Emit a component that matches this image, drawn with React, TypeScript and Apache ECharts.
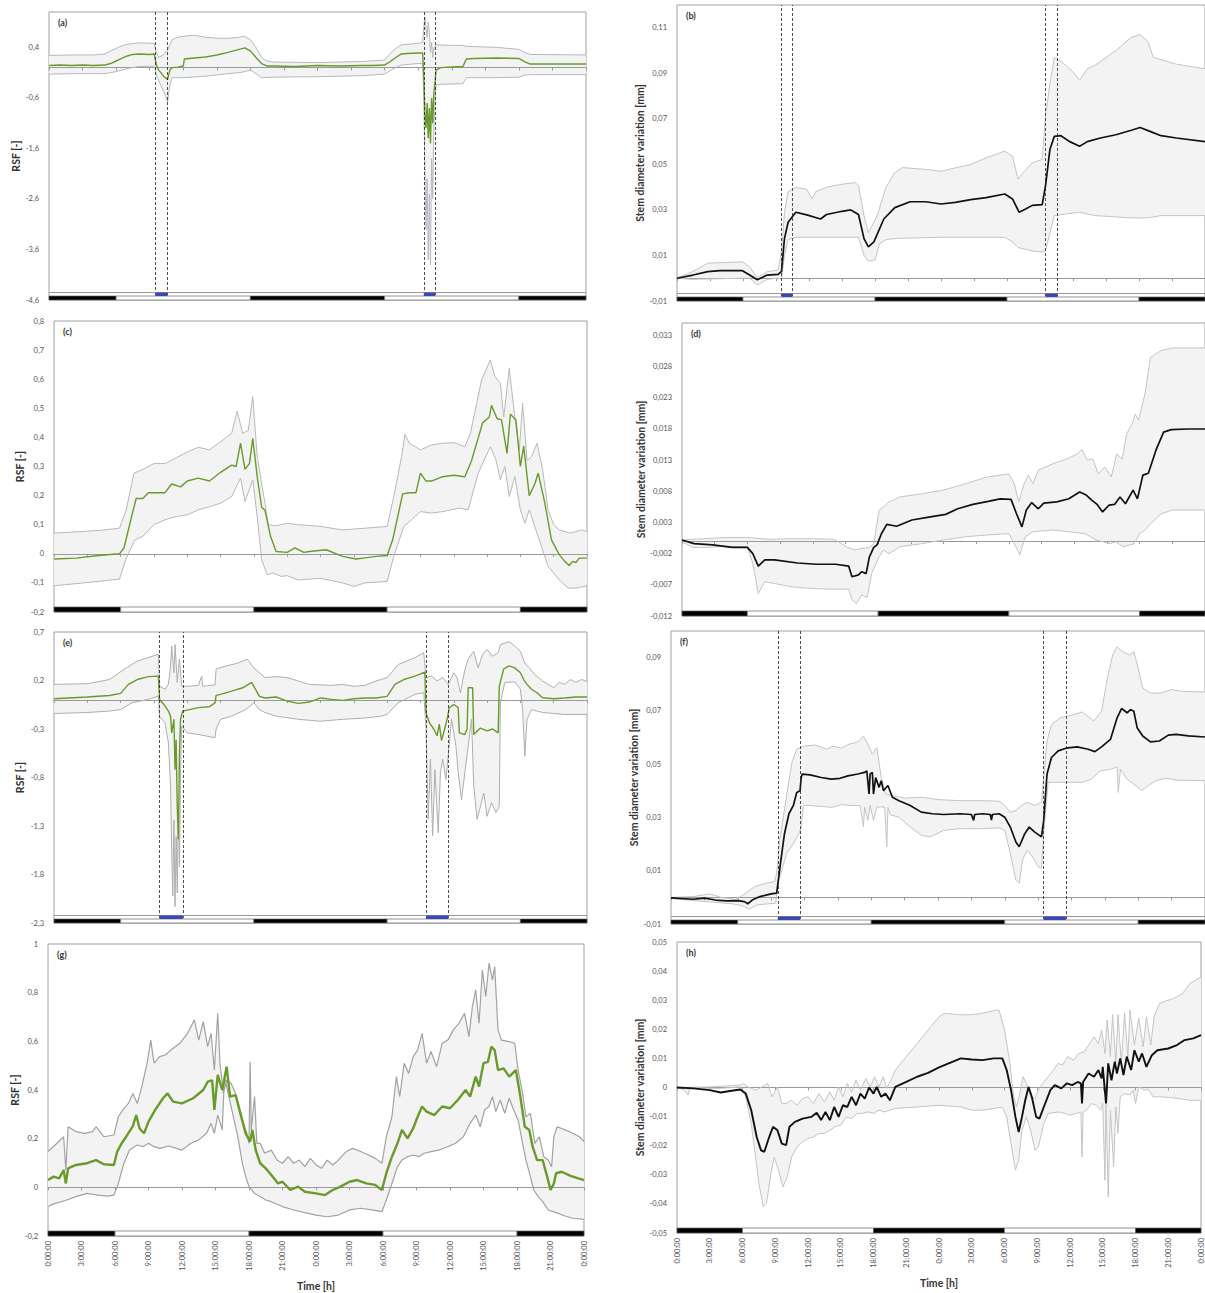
import React, { useEffect, useRef } from 'react';
import * as echarts from 'echarts';

type P = [number, number];

// ---------- shared ----------
const dayNight = [[0, 6, 1], [6, 18, 0], [18, 30, 1], [30, 42, 0], [42, 48, 1]];

// ---------- (a) ----------
const aTicks = [-4.6, -3.6, -2.6, -1.6, -0.6, 0.4];
const aTreat: P[] = [[9.5, 10.6], [33.5, 34.5]];
const aMean: P[] = [[0,0.04],[1,0.05],[2,0.04],[3,0.05],[4,0.04],[5,0.05],[5.5,0.08],[6,0.13],[6.5,0.18],[7,0.23],[7.5,0.26],[8,0.27],[9,0.26],[9.4,0.27],[9.6,0.05],[9.8,-0.05],[10,-0.1],[10.2,-0.16],[10.4,-0.2],[10.6,-0.24],[10.8,-0.05],[11,0.0],[11.5,0.01],[12,0.03],[12.1,0.17],[13,0.19],[14,0.21],[15,0.25],[16,0.3],[17,0.36],[17.5,0.39],[18,0.33],[18.5,0.2],[19,0.08],[19.5,0.03],[20,0.03],[22,0.02],[24,0.04],[26,0.03],[28,0.04],[29,0.04],[30,0.05],[30.5,0.12],[31,0.2],[31.5,0.27],[32,0.28],[33,0.29],[33.4,0.29],[33.5,-0.2],[33.6,-0.9],[33.7,-1.2],[33.8,-0.7],[33.9,-1.4],[34,-0.8],[34.1,-1.5],[34.2,-0.6],[34.3,-1.1],[34.4,-0.5],[34.5,-0.3],[34.6,-0.05],[35,0.0],[36,0.01],[37,0.02],[37.3,0.17],[38,0.18],[40,0.19],[42,0.18],[42.5,0.12],[43,0.07],[44,0.07],[46,0.07],[48,0.07]];
const aUp: P[] = [[0,0.24],[2,0.25],[4,0.25],[5,0.27],[5.5,0.33],[6,0.38],[6.5,0.43],[7,0.46],[8,0.49],[9.4,0.48],[9.6,0.3],[9.8,0.2],[10.2,0.25],[10.6,0.35],[10.8,0.45],[11,0.55],[11.5,0.6],[12,0.62],[13,0.64],[14,0.6],[15,0.58],[16,0.58],[17,0.6],[17.5,0.62],[18,0.55],[18.5,0.4],[19,0.2],[19.5,0.13],[20,0.11],[24,0.1],[28,0.12],[30,0.15],[30.5,0.28],[31,0.38],[31.5,0.45],[33,0.48],[33.4,0.5],[33.5,0.8],[33.6,1.0],[33.7,0.8],[33.8,0.6],[33.9,0.9],[34,0.7],[34.1,0.3],[34.2,0.5],[34.3,0.2],[34.4,0.4],[34.6,0.45],[36,0.44],[37,0.44],[37.3,0.42],[40,0.4],[42,0.36],[42.5,0.3],[43,0.26],[48,0.25]];
const aLo: P[] = [[0,-0.13],[2,-0.12],[4,-0.12],[5,-0.12],[5.5,-0.1],[6,-0.08],[6.5,-0.05],[7,-0.02],[7.5,0.0],[8,0.02],[9.4,0.03],[9.6,-0.15],[9.8,-0.25],[10,-0.35],[10.2,-0.45],[10.4,-0.55],[10.6,-0.68],[10.8,-0.35],[11,-0.2],[12,-0.2],[14,-0.17],[16,-0.12],[17,-0.1],[17.5,-0.08],[18,-0.05],[18.5,-0.12],[19,-0.2],[20,-0.19],[24,-0.18],[28,-0.16],[30,-0.13],[30.5,-0.06],[31,0.0],[31.5,0.05],[33,0.08],[33.4,0.08],[33.5,-0.6],[33.6,-2.0],[33.7,-3.2],[33.8,-2.2],[33.9,-3.8],[34,-2.5],[34.1,-3.9],[34.2,-1.8],[34.3,-2.6],[34.4,-1.2],[34.5,-0.7],[34.6,-0.35],[35,-0.33],[37,-0.32],[37.3,-0.2],[40,-0.2],[42,-0.19],[42.5,-0.15],[43,-0.14],[48,-0.14]];

// ---------- (b) ----------
const bTicks = [-0.01, 0.01, 0.03, 0.05, 0.07, 0.09, 0.11];
const bTreat: P[] = [[9.5, 10.5], [33.5, 34.6]];
const bMean: P[] = [[0,0],[1.45,0.0014],[2.8,0.0029],[3.9,0.0033],[5.95,0.0033],[6.6,0.0014],[7.3,-0.0007],[8.2,0.0014],[9.2,0.0017],[9.5,0.003],[9.77,0.0174],[10.1,0.0246],[10.8,0.029],[11.8,0.0278],[13.05,0.026],[13.6,0.028],[15,0.0294],[15.8,0.03],[16.5,0.028],[17,0.0174],[17.4,0.0138],[17.9,0.016],[18.8,0.026],[19.8,0.031],[21.2,0.0336],[22.6,0.0336],[24,0.0326],[25.3,0.0333],[26.7,0.0345],[28.1,0.0354],[29.8,0.037],[30.5,0.0348],[31.1,0.029],[31.7,0.0304],[32.3,0.032],[33.2,0.0323],[33.5,0.0406],[33.9,0.0565],[34.3,0.0623],[34.9,0.0626],[35.7,0.06],[36.6,0.058],[37.3,0.06],[38.5,0.0616],[39.9,0.063],[41.3,0.065],[42.1,0.0662],[43,0.0645],[44,0.0626],[45.4,0.0616],[48,0.06]];
const bUp: P[] = [[0,0],[1.45,0.003],[2.8,0.0066],[5.95,0.0072],[6.6,0.005],[7.3,0.0003],[8.2,0.0029],[9.2,0.0036],[9.5,0.0116],[9.77,0.029],[10.1,0.038],[10.8,0.0399],[11.8,0.0391],[12.3,0.0348],[12.6,0.038],[13.6,0.04],[15,0.0413],[16.2,0.042],[16.5,0.0406],[17,0.0275],[17.4,0.02],[18.2,0.0275],[19,0.04],[19.8,0.0464],[20.5,0.0486],[22.6,0.0478],[24,0.047],[26.7,0.05],[28.1,0.0529],[29.8,0.0558],[30.5,0.0536],[31,0.0435],[31.4,0.046],[32.3,0.0507],[33.2,0.0522],[33.5,0.071],[33.9,0.0855],[34.3,0.0968],[35,0.095],[36,0.0906],[36.6,0.087],[37.3,0.092],[38,0.0935],[39.9,0.1],[41.3,0.1058],[42.1,0.107],[42.8,0.104],[43.3,0.097],[45.4,0.094],[48,0.092]];
const bLo: P[] = [[0,0],[1.45,-0.0005],[3,-0.0003],[5.95,0],[6.6,0],[7.3,-0.003],[8.2,-0.0005],[9.2,0],[9.5,-0.0005],[9.77,0.01],[10.1,0.017],[10.8,0.018],[16.5,0.018],[17,0.01],[17.4,0.0075],[18,0.008],[18.4,0.015],[19,0.017],[20,0.0175],[24,0.018],[29.8,0.018],[30.5,0.016],[31,0.0135],[32.3,0.012],[33.2,0.0115],[33.5,0.012],[34.3,0.0275],[36.6,0.029],[38,0.0275],[41.3,0.0265],[42.8,0.0265],[44,0.0275],[48,0.0275]];

// ---------- (c) ----------
const cTicks = [-0.2, -0.1, 0, 0.1, 0.2, 0.3, 0.4, 0.5, 0.6, 0.7, 0.8];
const cMean: P[] = [[0,-0.018],[2,-0.015],[4,-0.006],[5.9,0],[6.3,0.02],[7,0.13],[7.4,0.19],[8,0.19],[8.5,0.21],[9.3,0.21],[10,0.21],[10.6,0.24],[11.4,0.23],[12,0.25],[13,0.26],[14,0.25],[15,0.28],[16,0.305],[16.4,0.3],[16.8,0.38],[17.2,0.29],[17.6,0.31],[17.9,0.397],[18.3,0.265],[18.7,0.16],[19,0.15],[19.5,0.06],[20,0.008],[21,0.005],[21.7,0.02],[22.5,0.005],[23,0.008],[24.5,0.014],[26,-0.009],[27.2,-0.018],[28,-0.014],[29,-0.009],[30,-0.006],[30.5,0.048],[31.4,0.206],[32,0.21],[32.6,0.21],[33,0.277],[33.5,0.25],[34,0.25],[35,0.265],[36,0.27],[37,0.265],[37.6,0.32],[38.6,0.45],[39.2,0.47],[39.4,0.51],[39.9,0.465],[40.3,0.46],[40.8,0.345],[41.1,0.48],[41.6,0.46],[42,0.3],[42.3,0.37],[42.8,0.2],[43.3,0.24],[43.6,0.277],[44.2,0.175],[44.8,0.048],[45.5,-0.003],[46,-0.026],[46.4,-0.04],[46.7,-0.026],[47,-0.03],[47.3,-0.015],[48,-0.015]];
const cUp: P[] = [[0,0.071],[4,0.08],[5.9,0.088],[6.5,0.15],[7.2,0.277],[8,0.29],[9,0.31],[10,0.31],[11,0.33],[12,0.35],[13,0.366],[14,0.357],[15,0.385],[16,0.414],[16.5,0.49],[17,0.414],[17.5,0.425],[17.9,0.54],[18.3,0.334],[18.7,0.24],[19,0.174],[19.3,0.1],[20,0.096],[21,0.105],[22,0.1],[24,0.094],[26,0.082],[28,0.088],[30,0.094],[30.6,0.197],[31.3,0.334],[31.6,0.41],[32,0.38],[33,0.357],[34,0.374],[35,0.38],[36,0.382],[37,0.368],[37.5,0.414],[38.5,0.597],[39.3,0.666],[39.7,0.61],[40.2,0.586],[40.5,0.47],[41,0.637],[41.5,0.47],[41.9,0.357],[42.2,0.517],[42.6,0.32],[43,0.334],[43.5,0.38],[44,0.29],[44.5,0.15],[45,0.1],[45.5,0.082],[46.5,0.071],[47.5,0.082],[48,0.077]];
const cLo: P[] = [[0,-0.11],[4,-0.095],[5.9,-0.087],[6.5,-0.015],[7.3,0.048],[8,0.06],[9,0.1],[10,0.117],[11,0.128],[12,0.134],[13,0.151],[14,0.162],[15,0.174],[16,0.197],[16.8,0.26],[17.2,0.18],[17.9,0.254],[18.3,0.128],[18.7,-0.02],[19.2,-0.072],[19.7,-0.066],[20.5,-0.078],[21,-0.075],[22,-0.09],[24,-0.084],[26,-0.1],[27,-0.112],[28,-0.1],[30,-0.095],[30.6,-0.009],[31.5,0.094],[32.2,0.117],[33,0.145],[34,0.14],[35,0.145],[36.5,0.157],[37.3,0.151],[38.2,0.277],[39.3,0.368],[39.8,0.323],[40.2,0.254],[40.6,0.3],[41,0.197],[41.5,0.265],[42,0.151],[42.4,0.105],[42.8,0.151],[43.3,0.094],[43.8,0.037],[44.5,-0.043],[45.5,-0.09],[46.3,-0.118],[47,-0.118],[48,-0.11]];

// ---------- (d) ----------
const dTicks = [-0.012, -0.007, -0.002, 0.003, 0.008, 0.013, 0.018, 0.023, 0.028, 0.033];
const dMean: P[] = [[0,0.0002],[1.1,-0.0004],[2.8,-0.0006],[4.6,-0.001],[6,-0.001],[6.5,-0.002],[7,-0.004],[7.6,-0.003],[8.5,-0.003],[10.6,-0.0035],[12.3,-0.0037],[14.1,-0.0037],[15.3,-0.004],[15.6,-0.0057],[16.2,-0.0054],[16.5,-0.0049],[16.9,-0.0052],[17.2,-0.0025],[17.6,-0.001],[17.9,-0.0006],[18.3,0.0012],[18.8,0.0027],[19.7,0.0024],[21.1,0.0034],[22.8,0.0039],[24.2,0.0043],[25.3,0.0052],[26.7,0.0059],[28.1,0.0064],[29.2,0.0068],[30.2,0.0067],[30.7,0.0044],[31.2,0.0023],[31.6,0.005],[32.1,0.0062],[32.7,0.0052],[33.2,0.0061],[34.4,0.0063],[35.5,0.0068],[36.5,0.0079],[37.1,0.0074],[37.6,0.0066],[38.1,0.0059],[38.6,0.0047],[39.2,0.0058],[39.7,0.0059],[40.2,0.0071],[40.7,0.006],[41.4,0.0082],[41.8,0.0068],[42.3,0.0106],[42.8,0.0109],[43.5,0.0146],[44.2,0.0175],[44.9,0.0179],[46.4,0.018],[48,0.018]];
const dUp: P[] = [[0,0.0002],[2,0.0004],[4,0.0006],[6,0.0006],[8,0.0003],[10,0.0004],[12,0.0004],[14,0.0003],[15.2,-0.001],[15.8,-0.0014],[16.4,-0.0012],[17.2,-0.001],[17.6,-0.0004],[18.1,0.005],[18.5,0.0055],[19,0.0063],[20,0.0071],[22,0.0076],[24,0.0082],[26,0.0092],[28,0.0103],[30,0.0108],[30.5,0.0092],[30.9,0.0063],[31.4,0.0092],[31.8,0.0106],[32.2,0.0092],[32.7,0.0114],[34,0.0124],[35.3,0.0132],[36.3,0.014],[36.7,0.0147],[37.2,0.013],[37.7,0.0132],[38.2,0.0108],[38.8,0.0119],[39.4,0.0103],[39.9,0.014],[40.4,0.0132],[40.8,0.0172],[41.3,0.0188],[41.6,0.0204],[41.9,0.0194],[42.5,0.0237],[43,0.0295],[44,0.0306],[45,0.031],[48,0.031]];
const dLo: P[] = [[0,-0.0001],[1,-0.001],[2.5,-0.001],[4,-0.0008],[6,-0.0009],[6.5,-0.0036],[7,-0.0084],[7.6,-0.0065],[8.5,-0.0068],[10,-0.0073],[12,-0.0076],[14,-0.0077],[15.3,-0.0077],[15.6,-0.0094],[16,-0.01],[16.5,-0.0086],[17,-0.009],[17.4,-0.0052],[17.8,-0.0036],[18.1,-0.0025],[18.5,-0.0014],[19,-0.002],[20,-0.0009],[22,-0.0004],[24,0.0002],[26,0.0007],[28,0.001],[30,0.0012],[30.5,-0.0004],[31,-0.0022],[31.5,0.0007],[32.2,0.0015],[34,0.0018],[36,0.0014],[37,0.0012],[38,0.0002],[39.3,-0.0004],[39.8,-0.0001],[40.5,-0.0009],[41.5,-0.0004],[42,0.0012],[42.5,0.0018],[43,0.0028],[44,0.0044],[45,0.005],[48,0.005]];

// ---------- (e) ----------
const eTicks = [-2.3, -1.8, -1.3, -0.8, -0.3, 0.2, 0.7];
const eTreat: P[] = [[9.5, 11.6], [33.5, 35.5]];
const eMean: P[] = [[0,0.012],[3,0.03],[5,0.046],[6,0.067],[6.7,0.16],[7.5,0.21],[8.5,0.24],[9.4,0.245],[9.5,0.005],[9.9,-0.047],[10.3,-0.115],[10.5,-0.17],[10.6,-0.34],[10.8,-0.2],[10.9,-0.72],[11,-0.41],[11.1,-1.1],[11.2,-1.44],[11.3,-0.55],[11.4,-0.2],[11.6,-0.115],[12,-0.105],[13,-0.08],[14,-0.07],[14.5,-0.03],[14.6,0.046],[15,0.057],[16,0.09],[17,0.125],[17.8,0.18],[18.5,0.036],[19,0.02],[20,0.03],[21,-0.012],[22,-0.036],[23,-0.022],[24,0.02],[25,0.005],[26,-0.005],[27,0.012],[28,0.019],[29,0.02],[30,0.036],[30.7,0.16],[31.5,0.21],[32.5,0.245],[33.4,0.287],[33.5,-0.13],[33.8,-0.235],[34.2,-0.3],[34.5,-0.37],[34.7,-0.25],[34.9,-0.42],[35.2,-0.29],[35.4,-0.2],[35.6,-0.08],[36,-0.047],[36.4,-0.08],[36.5,-0.34],[37,-0.357],[37.2,-0.3],[37.3,0.125],[37.7,0.125],[37.8,-0.357],[38.4,-0.29],[39,-0.32],[39.5,-0.3],[40,-0.34],[40.1,0.14],[40.5,0.32],[41,0.35],[41.5,0.33],[42,0.28],[42.3,0.21],[42.6,0.16],[43,0.11],[43.5,0.074],[44,0.022],[45,0.012],[46,0.019],[47,0.03],[48,0.03]];
const eUp: P[] = [[0,0.16],[3,0.167],[5,0.21],[6.5,0.33],[7.5,0.4],[9.4,0.47],[9.5,0.14],[10,0.11],[10.3,0.16],[10.5,0.35],[10.6,0.555],[10.8,0.28],[10.9,0.57],[11.1,0.18],[11.3,0.42],[11.5,0.14],[12,0.14],[13,0.15],[13.3,0.245],[13.4,0.14],[14.5,0.155],[14.6,0.32],[15.5,0.35],[16.5,0.377],[17.4,0.42],[18,0.33],[19,0.23],[20,0.24],[21,0.23],[22,0.195],[23,0.16],[25,0.15],[26,0.16],[27,0.14],[28,0.15],[29,0.195],[30,0.23],[31,0.365],[32.5,0.435],[33.3,0.487],[33.5,0.23],[34,0.245],[34.5,0.195],[35,0.23],[35.5,0.16],[36,0.28],[36.3,0.23],[36.6,0.074],[37,0.31],[37.3,0.42],[37.8,0.5],[38.2,0.33],[38.6,0.47],[39,0.52],[39.5,0.45],[40,0.487],[40.2,0.57],[41,0.6],[41.5,0.555],[42,0.5],[42.4,0.38],[42.8,0.33],[43.3,0.26],[44,0.195],[44.5,0.16],[45,0.125],[45.5,0.18],[46,0.16],[46.5,0.21],[47,0.18],[47.5,0.21],[48,0.19]];
const eLo: P[] = [[0,-0.14],[3,-0.13],[5,-0.115],[6,-0.1],[7,-0.03],[8.5,0.005],[9.4,0.04],[9.5,-0.17],[10,-0.235],[10.3,-0.44],[10.5,-0.89],[10.6,-1.58],[10.7,-2.02],[10.8,-1.24],[10.9,-2.13],[11,-1.41],[11.1,-1.99],[11.2,-1.1],[11.3,-1.72],[11.4,-0.72],[11.5,-0.27],[12,-0.34],[13,-0.357],[14.5,-0.39],[14.6,-0.3],[15,-0.2],[16,-0.167],[17,-0.115],[17.5,-0.08],[18,-0.03],[18.5,-0.1],[19,-0.13],[20,-0.167],[22,-0.2],[24,-0.22],[26,-0.2],[28,-0.187],[29.5,-0.167],[30,-0.15],[31,-0.03],[32.5,0.057],[33.3,0.074],[33.5,-0.3],[33.7,-1.23],[33.9,-0.61],[34.1,-1.4],[34.3,-0.72],[34.6,-1.37],[34.8,-0.75],[35,-0.61],[35.3,-0.82],[35.5,-0.58],[35.8,-0.2],[36.2,-0.48],[36.4,-0.75],[36.7,-1.03],[37,-0.75],[37.3,-0.48],[37.6,-0.2],[37.8,-0.89],[38.1,-1.23],[38.4,-1.1],[38.7,-0.96],[39,-1.2],[39.4,-1.06],[39.8,-1.16],[40.1,-1.1],[40.2,-0.03],[40.6,0.18],[41.5,0.186],[42,0.11],[42.2,-0.1],[42.4,-0.58],[42.6,-0.2],[43,-0.1],[43.5,-0.115],[44,-0.13],[45,-0.14],[46,-0.15],[48,-0.15]];

// ---------- (f) ----------
const fTicks = [-0.01, 0.01, 0.03, 0.05, 0.07, 0.09];
const fTreat: P[] = [[9.6, 11.6], [33.5, 35.5]];
const fMean: P[] = [[0,-0.0002],[2,-0.0007],[3,-0.0003],[4,-0.001],[5,-0.0013],[6,-0.0012],[6.6,-0.0016],[6.9,-0.0024],[7.3,-0.001],[8,0.0003],[9,0.0013],[9.5,0.0016],[9.8,0.0115],[10.2,0.0239],[10.6,0.0314],[11,0.0345],[11.3,0.0394],[11.6,0.04],[11.7,0.045],[11.8,0.0463],[12.5,0.046],[13.5,0.045],[14.4,0.0444],[15.2,0.0447],[15.9,0.0456],[16.8,0.0463],[17.4,0.0469],[17.6,0.0475],[17.8,0.0388],[17.9,0.0463],[18.1,0.0469],[18.2,0.0388],[18.4,0.045],[18.7,0.0413],[18.9,0.0438],[19.1,0.04],[19.5,0.042],[19.9,0.0376],[20.5,0.0363],[21.5,0.0345],[22.5,0.032],[23.5,0.0314],[24.5,0.0311],[26,0.0314],[27,0.0311],[27.2,0.0289],[27.3,0.0311],[28,0.0314],[28.7,0.0311],[28.8,0.029],[28.9,0.0311],[29.5,0.0314],[30,0.0301],[30.5,0.0264],[31,0.0208],[31.3,0.019],[31.8,0.0239],[32.2,0.0264],[32.7,0.0245],[33.3,0.0227],[33.5,0.0289],[33.8,0.0463],[34.2,0.0525],[34.8,0.055],[35.5,0.056],[36.5,0.0565],[37.5,0.0556],[38.1,0.0547],[38.7,0.0565],[39.5,0.0593],[40.1,0.0674],[40.5,0.0709],[41,0.0693],[41.3,0.0705],[41.6,0.0699],[41.9,0.0637],[42.4,0.0606],[43.1,0.0584],[43.9,0.0587],[44.7,0.0609],[45.4,0.0612],[46.5,0.0606],[48,0.0602]];
const fUp: P[] = [[0,0],[2,0.0003],[3.5,0.0013],[4.5,0],[5.8,-0.0007],[6.5,0.0009],[7.5,0.004],[8.5,0.0053],[9.3,0.0059],[9.5,0.009],[9.8,0.0227],[10.1,0.0301],[10.5,0.0413],[10.9,0.0512],[11.3,0.0556],[12,0.0568],[13,0.0572],[14,0.0556],[14.6,0.0568],[15.3,0.056],[16,0.0575],[16.8,0.0584],[17.3,0.0606],[17.7,0.0575],[18.1,0.0537],[18.5,0.0562],[18.9,0.045],[19.3,0.0388],[19.9,0.0382],[21,0.0373],[22.5,0.0376],[24,0.0367],[26,0.0363],[28,0.0363],[29.5,0.0361],[30,0.0345],[30.5,0.032],[31,0.0326],[31.5,0.0345],[32,0.0357],[32.7,0.0345],[33.3,0.0357],[33.5,0.045],[33.8,0.0587],[34.2,0.0649],[35,0.0674],[36,0.0684],[37,0.0696],[38,0.0662],[38.7,0.0699],[39.2,0.0817],[39.7,0.091],[40.1,0.0941],[40.6,0.0922],[41.2,0.091],[41.6,0.0922],[42,0.086],[42.4,0.0786],[43.1,0.0767],[44,0.0767],[45,0.078],[46,0.0773],[48,0.0771]];
const fLo: P[] = [[0,-0.0004],[2,-0.0012],[4,-0.0019],[5.5,-0.0024],[6,-0.0028],[6.6,-0.0034],[7,-0.0044],[7.8,-0.0028],[8.8,-0.0024],[9.4,-0.0022],[9.7,0.0065],[10.4,0.0165],[11,0.0202],[11.5,0.0239],[11.7,0.0264],[11.9,0.0345],[12.5,0.0345],[13.5,0.0341],[14.5,0.0338],[15.3,0.0348],[16.2,0.0345],[17,0.0345],[17.3,0.0264],[17.4,0.0338],[17.7,0.0289],[17.9,0.0345],[18.2,0.0289],[18.5,0.0338],[18.8,0.034],[19.2,0.0338],[19.4,0.019],[19.5,0.0338],[19.7,0.031],[20.5,0.0301],[21.5,0.0264],[22.5,0.0233],[23.3,0.0227],[24.5,0.0251],[26,0.0258],[28,0.0258],[29.5,0.0261],[30,0.0251],[30.5,0.0165],[31,0.0065],[31.3,0.0053],[31.6,0.014],[32,0.0177],[32.5,0.0152],[33,0.0115],[33.3,0.0109],[33.5,0.0239],[33.9,0.0432],[34.5,0.0432],[36,0.0432],[37,0.0432],[37.8,0.0444],[38.6,0.0475],[39.5,0.0481],[40.1,0.049],[40.2,0.0394],[40.4,0.0481],[41,0.0444],[41.8,0.0419],[42.3,0.04],[42.9,0.0419],[43.6,0.0438],[44.5,0.0447],[45.5,0.044],[48,0.0438]];

// ---------- (g) ----------
const gTicks = [-0.2, 0, 0.2, 0.4, 0.6, 0.8, 1];
const gMean: P[] = [[0,0.03],[0.5,0.044],[1,0.037],[1.4,0.071],[1.6,0.016],[1.8,0.078],[2.5,0.092],[3.5,0.099],[4.3,0.112],[5,0.095],[5.9,0.092],[6.2,0.147],[6.6,0.181],[7,0.208],[7.6,0.252],[7.9,0.297],[8.2,0.242],[8.6,0.222],[9,0.27],[9.6,0.318],[10.3,0.366],[10.7,0.386],[11.2,0.352],[12,0.345],[13,0.366],[13.9,0.4],[14.3,0.434],[14.7,0.44],[14.9,0.318],[15.2,0.462],[15.6,0.4],[16,0.496],[16.3,0.373],[16.8,0.379],[17.3,0.29],[17.7,0.222],[18.1,0.188],[18.3,0.236],[18.6,0.153],[19,0.099],[19.5,0.078],[20,0.051],[20.6,0.016],[21,0.023],[21.7,-0.011],[22.4,0.003],[23,-0.018],[24,-0.025],[24.8,-0.032],[25.5,-0.011],[26.2,0.003],[27,0.023],[27.7,0.03],[28.5,0.016],[29.3,0.01],[29.9,-0.011],[30.3,0.058],[30.8,0.126],[31.3,0.181],[31.7,0.236],[32.2,0.201],[32.7,0.242],[33.1,0.29],[33.5,0.332],[33.9,0.311],[34.6,0.297],[35.3,0.332],[36,0.325],[36.7,0.359],[37.4,0.4],[37.8,0.373],[38.3,0.455],[38.6,0.414],[39,0.51],[39.4,0.516],[39.7,0.578],[40,0.564],[40.3,0.482],[40.8,0.489],[41.3,0.455],[41.9,0.482],[42.3,0.373],[42.7,0.249],[43.1,0.236],[43.4,0.167],[43.8,0.112],[44.3,0.112],[44.7,0.044],[45,-0.011],[45.3,0.016],[45.5,0.058],[46,0.064],[46.8,0.047],[47.5,0.037],[48,0.03]];
const gUp: P[] = [[0,0.147],[0.8,0.181],[1.4,0.208],[1.6,0.071],[1.8,0.249],[2.5,0.229],[3.3,0.222],[4,0.229],[4.3,0.249],[5,0.208],[5.9,0.215],[6.3,0.29],[6.7,0.318],[7.2,0.345],[7.6,0.386],[8,0.345],[8.4,0.414],[8.9,0.516],[9.2,0.605],[9.5,0.51],[10,0.537],[10.5,0.544],[11,0.564],[11.8,0.592],[12.5,0.633],[13.1,0.688],[13.5,0.605],[13.9,0.681],[14.3,0.578],[14.6,0.633],[14.9,0.482],[15.2,0.715],[15.4,0.51],[15.7,0.386],[16,0.441],[16.4,0.427],[16.8,0.386],[17.2,0.318],[17.6,0.249],[17.8,0.222],[18,0.181],[18.1,0.516],[18.2,0.236],[18.5,0.373],[18.7,0.181],[19,0.181],[19.4,0.14],[20,0.153],[20.5,0.112],[21,0.099],[21.5,0.126],[22,0.099],[22.5,0.112],[23,0.085],[23.5,0.119],[24,0.092],[24.5,0.078],[25,0.112],[25.5,0.092],[26,0.112],[26.7,0.147],[27.3,0.16],[28,0.147],[28.7,0.133],[29.3,0.119],[29.9,0.099],[30.3,0.208],[30.8,0.29],[31.2,0.455],[31.5,0.373],[31.9,0.51],[32.3,0.468],[32.7,0.537],[33.1,0.564],[33.5,0.633],[33.9,0.51],[34.3,0.558],[34.8,0.496],[35.3,0.592],[35.8,0.605],[36.3,0.647],[36.8,0.674],[37.3,0.715],[37.7,0.619],[38,0.742],[38.3,0.811],[38.6,0.674],[38.9,0.893],[39.2,0.784],[39.5,0.921],[39.8,0.852],[40,0.907],[40.3,0.647],[40.6,0.605],[41.2,0.6],[41.8,0.592],[42.1,0.482],[42.5,0.386],[42.8,0.29],[43.2,0.304],[43.6,0.181],[44,0.208],[44.4,0.126],[44.8,0.112],[45.1,0.085],[45.3,0.208],[45.6,0.249],[46.3,0.236],[47,0.222],[47.6,0.208],[48,0.188]];
const gLo: P[] = [[0,-0.079],[0.5,-0.068],[1.5,-0.055],[2.5,-0.038],[3.5,-0.025],[4.5,-0.032],[5.3,-0.036],[5.9,-0.032],[6.3,0.016],[6.8,0.099],[7.3,0.153],[8,0.174],[8.5,0.167],[9,0.181],[9.5,0.167],[10,0.16],[10.8,0.17],[11.5,0.16],[12,0.153],[12.8,0.181],[13.5,0.195],[14.2,0.222],[14.6,0.263],[14.9,0.222],[15.2,0.297],[15.6,0.236],[15.8,0.455],[16.2,0.373],[16.6,0.29],[17,0.208],[17.4,0.099],[17.7,0.044],[18,0.003],[18.5,-0.025],[19,-0.038],[19.5,-0.052],[20,-0.059],[21,-0.079],[22,-0.093],[23,-0.104],[24,-0.114],[25,-0.121],[26,-0.114],[27,-0.093],[28,-0.086],[29,-0.093],[29.9,-0.1],[30.3,-0.052],[30.8,0.016],[31.3,0.085],[31.7,0.112],[32.2,0.126],[32.7,0.133],[33.2,0.126],[33.7,0.14],[34.3,0.147],[35,0.153],[35.8,0.167],[36.5,0.181],[37.2,0.208],[37.8,0.263],[38.3,0.297],[38.7,0.249],[39.1,0.318],[39.5,0.332],[39.8,0.373],[40.1,0.311],[40.5,0.359],[40.9,0.304],[41.3,0.366],[41.7,0.318],[42.1,0.277],[42.5,0.181],[42.8,0.112],[43.2,0.044],[43.5,-0.011],[43.9,-0.038],[44.3,-0.059],[44.8,-0.093],[45.5,-0.104],[46.3,-0.118],[47,-0.127],[48,-0.132]];

// ---------- (h) ----------
const hTicks = [-0.05, -0.04, -0.03, -0.02, -0.01, 0, 0.01, 0.02, 0.03, 0.04, 0.05];
const hMean: P[] = [[0,0],[1.5,-0.0003],[3,-0.0009],[4,-0.0017],[5,-0.0011],[5.8,-0.0007],[6.3,-0.0021],[6.8,-0.0078],[7.3,-0.017],[7.7,-0.0216],[8,-0.0221],[8.4,-0.0175],[8.8,-0.0135],[9.2,-0.0147],[9.6,-0.0193],[10,-0.0198],[10.3,-0.0135],[10.8,-0.0118],[11.5,-0.0107],[12.3,-0.0101],[12.8,-0.0087],[13.2,-0.0112],[13.6,-0.0084],[14,-0.0112],[14.4,-0.0067],[14.8,-0.0101],[15.2,-0.0061],[15.6,-0.0067],[16,-0.0032],[16.4,-0.0061],[16.8,-0.0021],[17.2,-0.0038],[17.6,0],[18,-0.0021],[18.3,0.0002],[18.7,-0.0032],[19.1,-0.0021],[19.5,-0.0044],[20,0.0002],[21,0.0019],[22,0.0037],[23,0.005],[24,0.0069],[25,0.0085],[26,0.01],[27,0.0096],[28,0.0094],[29,0.01],[29.8,0.01],[30.2,0.006],[30.6,-0.0009],[31,-0.0101],[31.3,-0.0153],[31.6,-0.0101],[31.9,-0.0044],[32.2,0.0002],[32.5,-0.0032],[32.9,-0.0101],[33.2,-0.0107],[33.6,-0.0067],[34.2,-0.0009],[34.6,0.0008],[35.2,-0.0003],[35.7,0.0014],[36.2,0.0008],[36.7,0.0019],[37,0.0014],[37.1,-0.0055],[37.2,0.0019],[37.7,0.0048],[38.2,0.0037],[38.6,0.006],[38.9,0.0031],[39,0.0071],[39.3,-0.0055],[39.5,0.0083],[39.8,0.0025],[40.1,0.0089],[40.3,0.0048],[40.6,0.01],[40.9,0.0043],[41.2,0.0106],[41.6,0.006],[41.9,0.0128],[42.3,0.0089],[42.6,0.0117],[43,0.0071],[43.5,0.0111],[44,0.0128],[45,0.0134],[45.8,0.0146],[46.5,0.0163],[47.3,0.0169],[48,0.018]];
const hUp: P[] = [[0,0],[3,0.0002],[5.8,0.0008],[6.1,0.0014],[6.5,0.0002],[7.2,-0.0009],[7.8,0.0002],[8.3,0.0014],[8.7,-0.0032],[9.2,0.0002],[9.6,-0.0055],[10,-0.0055],[10.5,-0.0044],[11,-0.0061],[11.5,-0.0038],[12,-0.0032],[12.5,-0.0055],[13,-0.0021],[13.5,-0.005],[14,-0.0015],[14.4,-0.0044],[14.8,0.0002],[15.2,-0.0032],[15.6,0.0014],[16,-0.0015],[16.4,0.0025],[16.8,-0.0009],[17.3,0.0031],[17.7,0.0002],[18.1,0.0037],[18.5,0.0002],[18.9,0.0037],[19.2,-0.0003],[19.6,0.0025],[20,0.006],[21,0.0106],[22,0.0151],[23,0.0197],[24,0.0243],[24.5,0.0255],[26,0.025],[27,0.025],[28,0.0255],[29.2,0.0266],[29.5,0.0266],[30,0.0197],[30.5,0.0083],[30.8,-0.0021],[31.1,-0.0067],[31.4,-0.0021],[31.7,0.0037],[32,0.0014],[32.4,-0.0032],[32.8,-0.0038],[33.1,-0.0009],[33.5,0.0014],[34,0.0037],[34.5,0.006],[34.9,0.0083],[35.3,0.0077],[35.8,0.0106],[36.3,0.0094],[36.8,0.0117],[37.3,0.0123],[37.8,0.0151],[38.2,0.0174],[38.6,0.0151],[38.9,0.0197],[39.2,0.0117],[39.4,0.0232],[39.7,0.0106],[39.9,0.025],[40.2,0.0083],[40.4,0.025],[40.7,0.0083],[41,0.0255],[41.3,0.0106],[41.5,0.0266],[41.9,0.0146],[42.3,0.0238],[42.7,0.014],[43,0.0243],[43.4,0.0146],[43.7,0.0243],[44.2,0.0289],[44.8,0.0298],[45.5,0.0306],[46.3,0.0323],[47,0.0358],[48,0.038]];
const hLo: P[] = [[0,0],[0.7,-0.0009],[1,-0.0026],[1.2,0],[3,-0.0003],[4,-0.0003],[5.8,0.0002],[6.3,-0.0032],[6.8,-0.0124],[7.2,-0.0239],[7.5,-0.033],[7.9,-0.041],[8.2,-0.0399],[8.6,-0.0296],[8.9,-0.0239],[9.3,-0.0284],[9.7,-0.0342],[10.1,-0.0307],[10.5,-0.0239],[11,-0.0204],[11.5,-0.0187],[12,-0.0175],[12.5,-0.017],[13,-0.0158],[13.5,-0.0158],[14,-0.0147],[14.5,-0.0135],[15,-0.0129],[15.5,-0.0101],[16,-0.0107],[16.5,-0.0089],[17,-0.0089],[17.5,-0.0084],[18,-0.0089],[18.5,-0.0078],[19,-0.0084],[19.5,-0.0078],[20,-0.0072],[22,-0.0067],[24,-0.0061],[26,-0.0067],[27,-0.0078],[28,-0.0078],[29,-0.0072],[29.8,-0.0067],[30.2,-0.0101],[30.6,-0.0193],[31,-0.0284],[31.3,-0.025],[31.6,-0.0147],[32,-0.0101],[32.4,-0.0147],[32.8,-0.0216],[33.1,-0.0204],[33.6,-0.0124],[34,-0.0089],[35,-0.0084],[35.5,-0.0089],[36,-0.0095],[36.6,-0.0089],[37,-0.0084],[37.1,-0.0239],[37.2,-0.0084],[37.5,-0.0078],[38,-0.0055],[38.4,-0.0061],[38.8,-0.0078],[39,-0.0055],[39.2,-0.0319],[39.3,-0.0055],[39.5,-0.0376],[39.7,-0.0078],[40,-0.0273],[40.2,-0.0067],[40.4,-0.0158],[40.6,-0.0032],[41,-0.0021],[41.5,-0.0026],[41.8,-0.0009],[42,-0.0055],[42.3,0.0002],[42.8,-0.0009],[43.2,-0.0007],[43.6,-0.0032],[44.2,-0.0032],[45,-0.0034],[46,-0.0038],[47,-0.0044],[48,-0.0044]];

// ---------- styling / layout ----------
const FONT = 'Lato, "Liberation Sans", sans-serif';
const GREEN = '#6a9a2c';
const BLACK = '#111111';
const RSF = 'RSF [-]';
const SDV = 'Stem diameter variation [mm]';

const panels: any[] = [
  { label: '(a)', box: [49, 12, 537, 288], yMin: -4.6, yMax: 1.1, ticks: aTicks, dec: 1, yName: RSF, gap: 27, mean: aMean, up: aUp, lo: aLo, color: GREEN, width: 1.4, env: '#b5b8c0', treat: aTreat, time: false },
  { label: '(b)', box: [677, 5, 531, 296], yMin: -0.01, yMax: 0.12, ticks: bTicks, dec: 2, yName: SDV, gap: 29, mean: bMean, up: bUp, lo: bLo, color: BLACK, width: 1.7, env: '#c4c4c4', treat: bTreat, time: false },
  { label: '(c)', box: [54, 321, 533, 291], yMin: -0.2, yMax: 0.8, ticks: cTicks, dec: 1, yName: RSF, gap: 29, mean: cMean, up: cUp, lo: cLo, color: GREEN, width: 1.4, env: '#b8b8b8', treat: null, time: false },
  { label: '(d)', box: [682, 323, 527, 293], yMin: -0.012, yMax: 0.035, ticks: dTicks, dec: 3, yName: SDV, gap: 34, mean: dMean, up: dUp, lo: dLo, color: BLACK, width: 1.7, env: '#c4c4c4', treat: null, time: false },
  { label: '(e)', box: [54, 632, 533, 291], yMin: -2.3, yMax: 0.7, ticks: eTicks, dec: 1, yName: RSF, gap: 29, mean: eMean, up: eUp, lo: eLo, color: GREEN, width: 1.4, env: '#aeaeae', treat: eTreat, time: false },
  { label: '(f)', box: [671, 631, 537, 293], yMin: -0.01, yMax: 0.1, ticks: fTicks, dec: 2, yName: SDV, gap: 27, mean: fMean, up: fUp, lo: fLo, color: BLACK, width: 1.7, env: '#c4c4c4', treat: fTreat, time: false },
  { label: '(g)', box: [48, 944, 536, 292], yMin: -0.2, yMax: 1, ticks: gTicks, dec: 1, yName: RSF, gap: 24, mean: gMean, up: gUp, lo: gLo, color: GREEN, width: 2.4, env: '#a2a2a2', treat: null, time: true },
  { label: '(h)', box: [677, 942, 532, 291], yMin: -0.05, yMax: 0.05, ticks: hTicks, dec: 2, yName: SDV, gap: 31, mean: hMean, up: hUp, lo: hLo, color: BLACK, width: 1.9, env: '#c4c4c4', treat: null, time: true },
];

const fmt = (dec: number) => (v: number) => String(+Number(v).toFixed(dec)).replace('.', ',');

function buildOption() {
  const grid: any[] = [];
  const xAxis: any[] = [];
  const yAxis: any[] = [];
  const series: any[] = [];
  const graphic: any[] = [];

  panels.forEach((p, i) => {
    const [left, top, width, height] = p.box;
    grid.push({ left, top, width, height, show: true, borderColor: '#a0a0a0', borderWidth: 1, containLabel: false });
    const xi = xAxis.length;
    xAxis.push({
      type: 'value', gridIndex: i, min: 0, max: 48, interval: 3, position: 'bottom', z: 2,
      axisLine: { show: true, onZero: true, lineStyle: { color: '#9a9a9a', width: 1 } },
      axisTick: { show: true, length: 3, lineStyle: { color: '#9a9a9a' } },
      axisLabel: { show: false }, splitLine: { show: false },
    });
    if (p.time) {
      xAxis.push({
        type: 'value', gridIndex: i, min: 0, max: 48, interval: 3, position: 'bottom',
        axisLine: { show: false, onZero: false }, axisTick: { show: false }, splitLine: { show: false },
        axisLabel: { show: true, rotate: 90, fontSize: 7.5, color: '#555', margin: 5, fontFamily: FONT,
          formatter: (v: number) => `${v % 24}:00:00` },
        name: 'Time [h]', nameLocation: 'middle', nameGap: 44,
        nameTextStyle: { fontWeight: 'bold', fontSize: 10.5, color: '#333', fontFamily: FONT },
      });
    }
    yAxis.push({
      type: 'value', gridIndex: i, min: p.yMin, max: p.yMax,
      axisLine: { show: false }, axisTick: { show: false }, splitLine: { show: false },
      axisLabel: { customValues: p.ticks, formatter: fmt(p.dec), fontSize: 7.5, color: '#555', margin: 10, fontFamily: FONT },
      name: p.yName, nameLocation: 'middle', nameGap: p.gap,
      nameTextStyle: { fontWeight: 'bold', fontSize: 10.5, color: '#333', fontFamily: FONT },
    });

    const up = p.up as P[];
    const lo = p.lo as P[];
    const yMin = p.yMin;
    // envelope fill
    series.push({
      type: 'custom', xAxisIndex: xi, yAxisIndex: i, silent: true, z: 1,
      data: [[up[0][0], up[0][1]]],
      renderItem: (params: any, api: any) => {
        if (params.dataIndex !== 0) return null;
        const pts = up.map((d) => api.coord(d)).concat(lo.slice().reverse().map((d) => api.coord(d)));
        return { type: 'polygon', shape: { points: pts }, style: { fill: '#f3f3f3' } };
      },
    });
    // envelope outlines
    [up, lo].forEach((d) => {
      series.push({
        type: 'line', xAxisIndex: xi, yAxisIndex: i, data: d, symbol: 'none', silent: true, z: 3,
        lineStyle: { color: p.env, width: p.time && p.color === GREEN ? 1.2 : 1 },
      });
    });
    // mean line with treatment markers
    const meanS: any = {
      type: 'line', xAxisIndex: xi, yAxisIndex: i, data: p.mean, symbol: 'none', silent: true, z: 4,
      lineStyle: { color: p.color, width: p.width },
    };
    if (p.treat) {
      const xs: number[] = [];
      (p.treat as P[]).forEach((w) => { xs.push(w[0], w[1]); });
      meanS.markLine = {
        silent: true, symbol: ['none', 'none'], label: { show: false },
        lineStyle: { type: [3, 2], color: '#222', width: 0.8 },
        data: xs.map((x) => ({ xAxis: x })),
      };
    }
    series.push(meanS);

    // day / night bar
    const barH = p.treat ? 4 : 5;
    series.push({
      type: 'custom', xAxisIndex: xi, yAxisIndex: i, silent: true, z: 6,
      data: dayNight,
      renderItem: (params: any, api: any) => {
        const a = api.coord([api.value(0), yMin]);
        const b = api.coord([api.value(1), yMin]);
        const night = api.value(2) === 1;
        return {
          type: 'rect',
          shape: { x: a[0], y: a[1] - barH, width: b[0] - a[0], height: barH },
          style: { fill: night ? '#000' : '#fff', stroke: '#666', lineWidth: 0.7 },
        };
      },
    });
    if (p.treat) {
      series.push({
        type: 'custom', xAxisIndex: xi, yAxisIndex: i, silent: true, z: 7,
        data: p.treat,
        renderItem: (params: any, api: any) => {
          const a = api.coord([api.value(0), yMin]);
          const b = api.coord([api.value(1), yMin]);
          const children: any[] = [];
          if (params.dataIndex === 0) {
            const s = api.coord([0, yMin]);
            const e = api.coord([48, yMin]);
            children.push({ type: 'line', shape: { x1: s[0], y1: s[1] - 7.5, x2: e[0], y2: e[1] - 7.5 }, style: { stroke: '#999', lineWidth: 1 } });
          }
          children.push({ type: 'rect', shape: { x: a[0], y: a[1] - 7.5, width: b[0] - a[0], height: 3.5 }, style: { fill: '#3b47b8' } });
          return { type: 'group', children };
        },
      });
    }

    graphic.push({
      type: 'text', left: left + 9, top: top + 6, silent: true,
      style: { text: p.label, fontSize: 9, fontWeight: 'bold', fontFamily: FONT, fill: '#333' },
    });
  });

  return {
    animation: false,
    backgroundColor: '#ffffff',
    textStyle: { fontFamily: FONT },
    grid, xAxis, yAxis, series, graphic,
  };
}

export default function App() {
  const ref = useRef<HTMLDivElement>(null);
  useEffect(() => {
    if (!ref.current) return;
    const chart = echarts.init(ref.current, undefined, { renderer: 'svg' });
    chart.setOption(buildOption() as any);
    return () => chart.dispose();
  }, []);
  return (
    <div
      ref={ref}
      style={{ position: 'absolute', left: 0, top: 0, width: 1205, height: 1293, background: '#fff' }}
    />
  );
}
